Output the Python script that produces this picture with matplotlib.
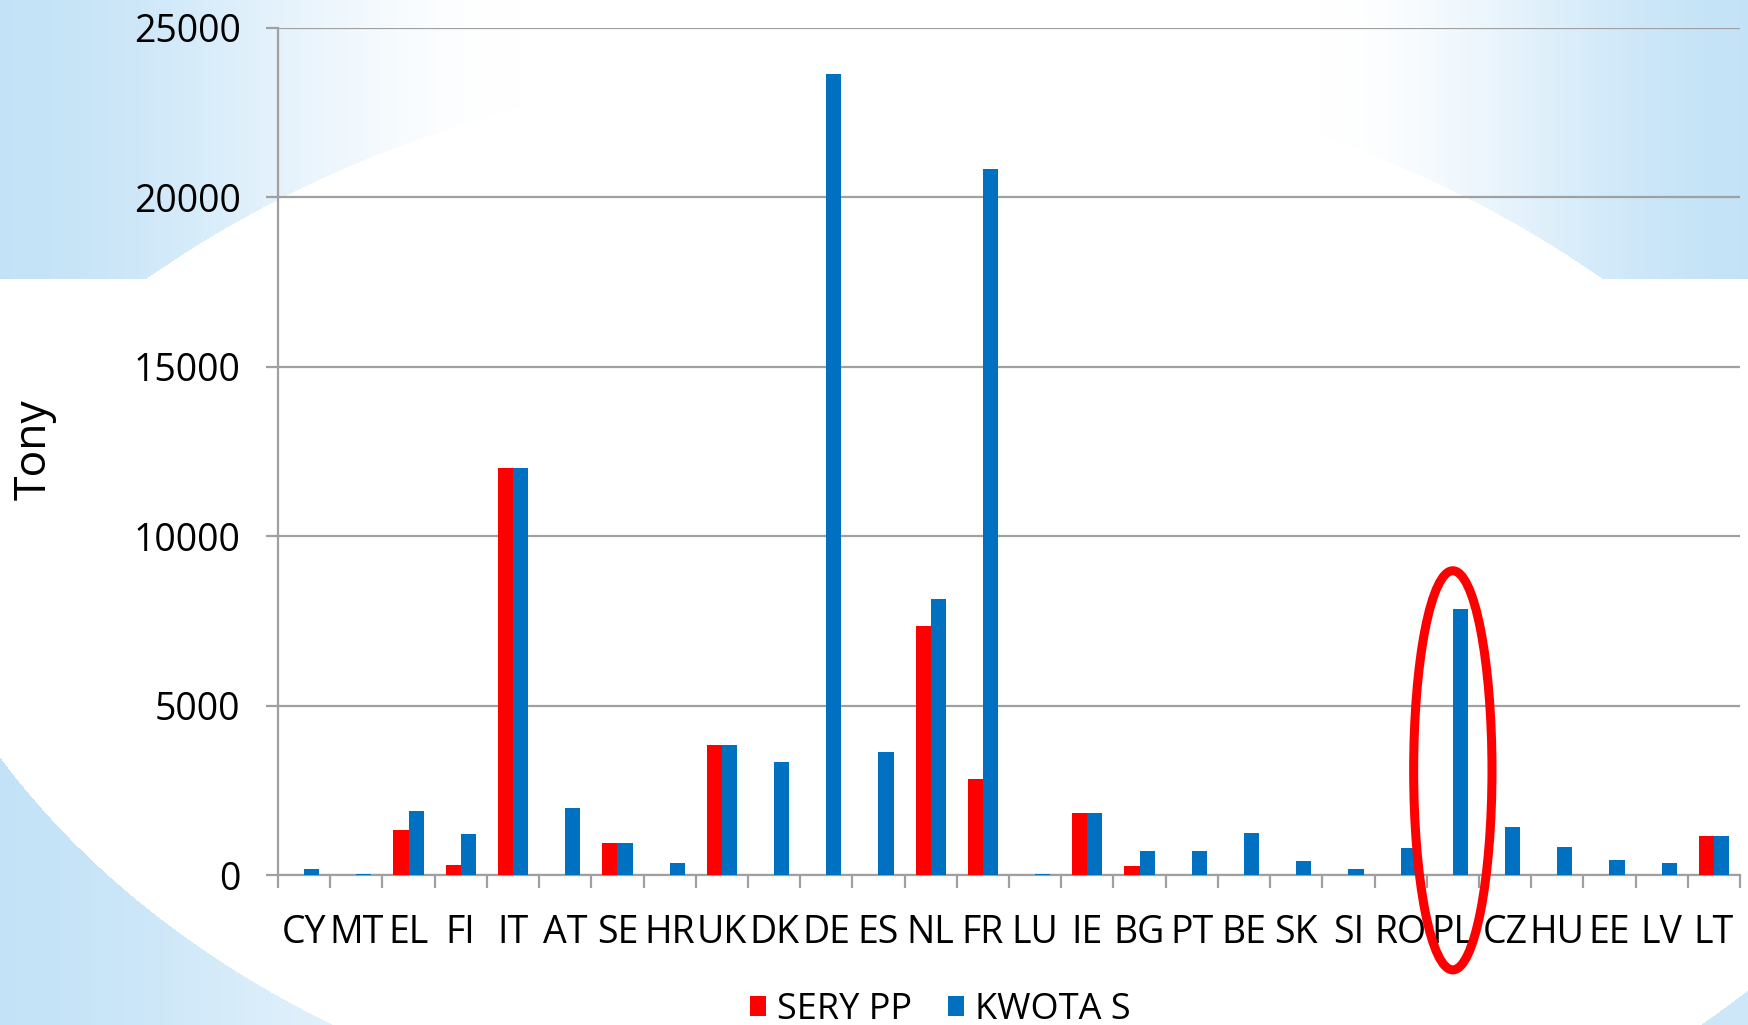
import numpy as np
import matplotlib.pyplot as plt
from matplotlib.patches import Ellipse

# dane
kraje = ["CY", "MT", "EL", "FI", "IT", "AT", "SE", "HR", "UK", "DK", "DE", "ES", "NL", "FR",
         "LU", "IE", "BG", "PT", "BE", "SK", "SI", "RO", "PL", "CZ", "HU", "EE", "LV", "LT"]
sery_pp = [0, 0, 1330, 295, 12000, 0, 935, 0, 3850, 0, 0, 0, 7340, 2830,
           0, 1830, 257, 0, 0, 0, 0, 0, 0, 0, 0, 0, 0, 1150]
kwota_s = [190, 20, 1880, 1210, 12000, 1970, 935, 360, 3850, 3325, 23640, 3630, 8160, 20840,
           30, 1830, 700, 700, 1240, 413, 168, 797, 7850, 1417, 826, 443, 345, 1151]

plt.rcParams['font.family'] = ['Open Sans', 'DejaVu Sans']
fs = 27

W, H = 1748, 1025
fig = plt.figure(figsize=(W / 100, H / 100), dpi=100)


def smooth(f):
    f = np.clip(f, 0, 1)
    return f * f * (3 - 2 * f)


# tlo slajdu (niebieskie rogi)
yy, xx = np.mgrid[0:H, 0:W].astype(float)
t = np.zeros((H, W))
poza_gora = ((xx - 874) / 1084) ** 2 + ((yy - 900) / 839) ** 2 > 1
fade = np.maximum(smooth(1 - xx / 520), smooth(1 - (W - xx) / 430))
t = np.where((yy < 279) & poza_gora, fade, t)
poza_ld = (((xx - 874) / 1005) ** 2 + ((yy - 380) / 765) ** 2 > 1) & (xx < 874)
t = np.where(poza_ld, 0.4 + 0.6 * smooth(1 - xx / 450), t)
poza_pd = (((xx - 874) / 1206) ** 2 + ((yy - 380) / 885) ** 2 > 1) & (xx > 874)
t = np.where(poza_pd, 0.85, t)
blue = np.array([0.77, 0.89, 0.97])
img = 1 - t[..., None] * (1 - blue)

bg = fig.add_axes([0, 0, 1, 1])
bg.imshow(img, aspect='auto', interpolation='bilinear')
bg.axis('off')
bg.set_zorder(0)

ax = fig.add_axes([278 / W, 150 / H, 1462 / W, 847 / H])
ax.set_zorder(1)
ax.patch.set_alpha(0)

x = np.arange(len(kraje))
w = 0.29
ax.bar(x - w / 2, sery_pp, w, color='#ff0000', label='SERY PP', zorder=3)
ax.bar(x + w / 2, kwota_s, w, color='#0070c0', label='KWOTA S', zorder=3)

ax.set_xlim(-0.5, len(kraje) - 0.5)
ax.set_ylim(0, 25000)
ax.set_yticks(np.arange(0, 25001, 5000))
ax.yaxis.grid(True, color='#a0a0a0', linewidth=1.6)
ax.set_axisbelow(True)

for s in ['top', 'right']:
    ax.spines[s].set_visible(False)
for s in ['left', 'bottom']:
    ax.spines[s].set_color('#a0a0a0')
    ax.spines[s].set_linewidth(1.6)

ax.set_xticks(x)
ax.set_xticklabels(kraje)
ax.set_xticks(np.arange(-0.5, len(kraje), 1), minor=True)
ax.tick_params(axis='x', which='major', length=0, pad=28, labelsize=fs)
ax.tick_params(axis='x', which='minor', length=9, width=1.6, color='#a0a0a0')
ax.tick_params(axis='y', length=9, width=1.6, color='#a0a0a0', pad=18, labelsize=fs)

fig.text(34 / W, 1 - 450 / H, 'Tony', rotation=90, ha='center', va='center', fontsize=32)

# zaznaczenie PL
ax.add_patch(Ellipse((22, 3090), 1.5, 11780, fill=False, edgecolor='#ff0000',
                     linewidth=6.5, clip_on=False, zorder=5))

fig.legend(loc='center', bbox_to_anchor=(940 / W, 15 / H), ncol=2, frameon=False,
           fontsize=26, handlelength=0.45, handleheight=0.45, handletextpad=0.3,
           columnspacing=1.0)

fig.savefig('out.png', dpi=100)
